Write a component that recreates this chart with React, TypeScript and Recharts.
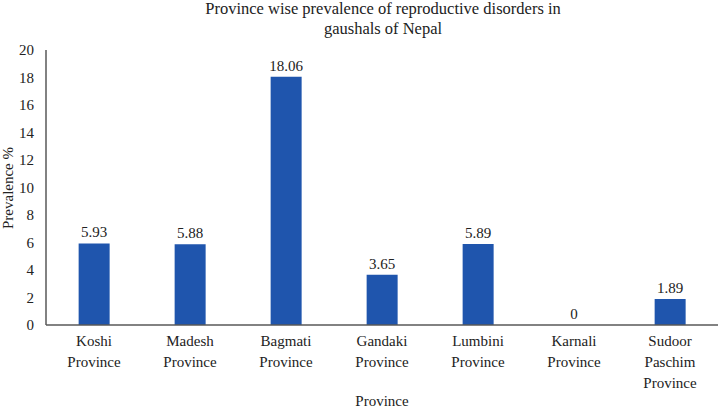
import { ComposedChart, Bar, Line, XAxis, YAxis, LabelList } from 'recharts';

const provinces = ['Koshi Province', 'Madesh Province', 'Bagmati Province', 'Gandaki Province', 'Lumbini Province', 'Karnali Province', 'Sudoor Paschim Province'];
const tickLines = [
  ['Koshi', 'Province'],
  ['Madesh', 'Province'],
  ['Bagmati', 'Province'],
  ['Gandaki', 'Province'],
  ['Lumbini', 'Province'],
  ['Karnali', 'Province'],
  ['Sudoor', 'Paschim', 'Province'],
];
const prevalence = [5.93, 5.88, 18.06, 3.65, 5.89, 0, 1.89];
const yTicks = [0, 2, 4, 6, 8, 10, 12, 14, 16, 18, 20];

const FONT = '"Liberation Serif", "Times New Roman", serif';
const BLUE = '#1f55ad';
const INK = '#222';

const data = provinces.map((p, i) => ({ province: p, value: prevalence[i] }));

function ProvinceTick(props: any) {
  const { x, y, payload } = props;
  const lines = tickLines[payload.index] ?? [String(payload.value)];
  return (
    <text x={x} y={y} textAnchor="middle" fontFamily={FONT} fontSize={15} fill={INK}>
      {lines.map((l, i) => (
        <tspan key={i} x={x} dy={i === 0 ? 13 : 21}>{l}</tspan>
      ))}
    </text>
  );
}

function YTitle() {
  return (
    <text x={13} y={188} transform="rotate(-90 13 188)" textAnchor="middle" fontFamily={FONT} fontSize={15} fill={INK}>
      Prevalence %
    </text>
  );
}

export default function App() {
  return (
    <div style={{ position: 'absolute', left: 0, top: 0, width: 720, height: 410, background: '#fff', fontFamily: FONT, color: INK }}>
      <div style={{ position: 'absolute', left: 0, width: 766, top: -1, textAlign: 'center', fontSize: 16.5, lineHeight: '20px' }}>
        Province wise prevalence of reproductive disorders in
        <br />
        gaushals of Nepal
      </div>
      <ComposedChart
        width={720}
        height={410}
        data={data}
        margin={{ top: 50, right: 2, bottom: 0, left: 0 }}
        barCategoryGap="34%"
      >
        <XAxis
          dataKey="province"
          tickLine={false}
          axisLine={{ stroke: '#595959', strokeWidth: 1.5 }}
          interval={0}
          tick={<ProvinceTick />}
          height={85}
          label={{ value: 'Province', position: 'insideBottom', offset: 4, fontFamily: FONT, fontSize: 15, fill: INK }}
        />
        <YAxis
          domain={[0, 20]}
          ticks={yTicks}
          interval={0}
          width={46}
          tickLine={false}
          axisLine={{ stroke: '#595959', strokeWidth: 1.5 }}
          tick={{ fontFamily: FONT, fontSize: 15, fill: INK }}
          tickMargin={6}
          label={<YTitle />}
        />
        <Bar dataKey="value" fill={BLUE} isAnimationActive={false} />
        <Line dataKey="value" stroke="none" dot={false} activeDot={false} isAnimationActive={false}>
          <LabelList dataKey="value" position="top" offset={6} style={{ fontFamily: FONT, fontSize: 15, fill: INK }} />
        </Line>
      </ComposedChart>
    </div>
  );
}
